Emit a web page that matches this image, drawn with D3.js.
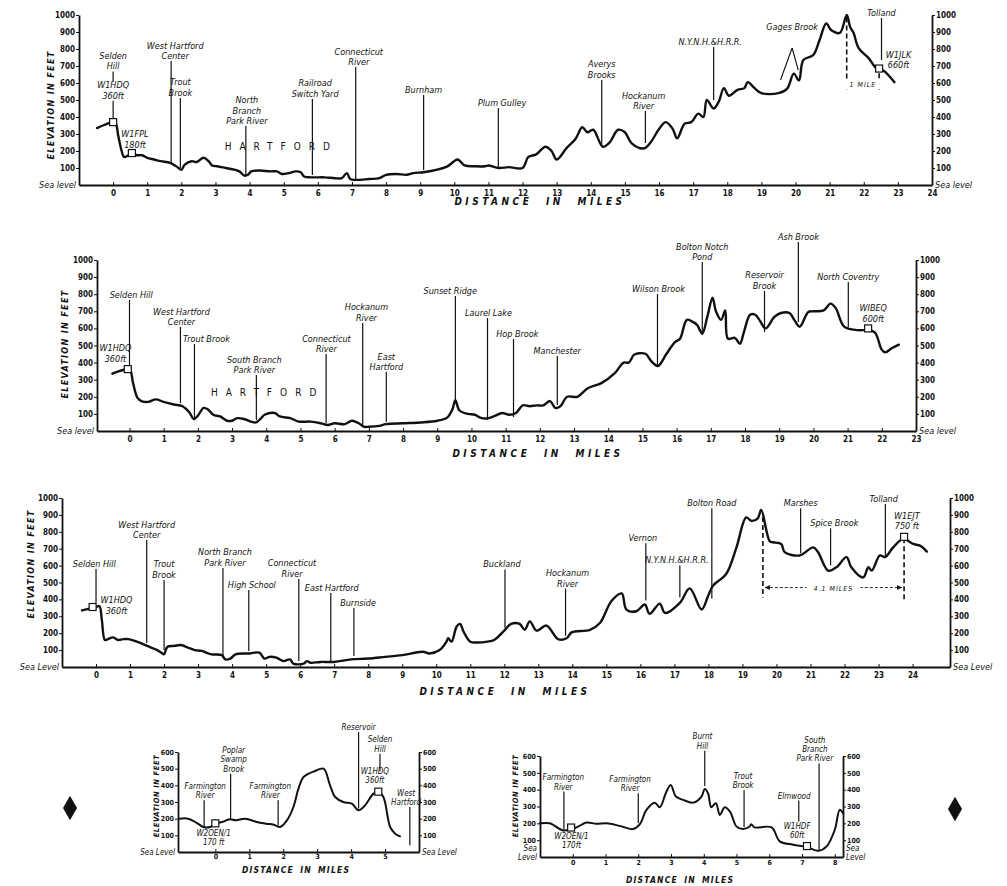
<!DOCTYPE html>
<html>
<head>
<meta charset="utf-8">
<script src="https://cdn.jsdelivr.net/npm/d3@7/dist/d3.min.js"></script>
<style>
  body { margin: 0; background: #fff; }
  svg text { font-family: "DejaVu Sans Condensed", "DejaVu Sans", sans-serif; font-stretch: condensed; font-style: italic; fill: #111; }
  .tick text { font-style: normal; font-weight: bold; }
</style>
</head>
<body>
<svg id="chart" width="1007" height="886"></svg>
<script>
// ---- profile 1 : Selden Hill to Tolland ----
var route1Profile = [[-0.47,335],[-0.3,350],[-0.1,365],[0,370],[0.08,360],[0.15,290],[0.25,200],[0.32,165],[0.45,175],[0.55,185],[0.7,175],[0.85,175],[1.0,160],[1.2,150],[1.4,140],[1.67,130],[1.85,110],[2.0,90],[2.1,120],[2.3,140],[2.45,135],[2.65,160],[2.8,140],[2.9,115],[3.05,110],[3.3,100],[3.55,90],[3.7,80],[3.85,55],[3.95,60],[4.05,80],[4.3,85],[4.6,80],[4.8,80],[4.95,65],[5.15,70],[5.35,80],[5.5,75],[5.6,50],[5.8,45],[6.2,45],[6.5,40],[6.7,40],[6.85,70],[6.95,35],[7.1,30],[7.5,35],[7.8,40],[8.0,60],[8.3,65],[8.6,60],[8.8,70],[9.1,75],[9.5,90],[9.8,110],[10.1,150],[10.3,115],[10.6,110],[10.9,110],[11.0,115],[11.3,100],[11.6,105],[12.0,100],[12.17,165],[12.4,180],[12.67,225],[12.85,200],[13.0,150],[13.3,220],[13.55,270],[13.75,340],[13.9,310],[14.07,325],[14.35,225],[14.55,250],[14.8,325],[15.0,310],[15.2,245],[15.55,215],[15.75,250],[16.0,330],[16.2,370],[16.4,330],[16.53,275],[16.75,360],[16.95,370],[17.15,420],[17.3,400],[17.4,500],[17.6,450],[17.75,490],[17.9,570],[18.05,525],[18.3,560],[18.5,570],[18.6,605],[18.8,570],[19.0,540],[19.5,540],[19.75,565],[19.95,655],[20.1,615],[20.23,735],[20.52,765],[20.7,850],[20.9,950],[21.05,910],[21.3,895],[21.5,1000],[21.6,930],[21.7,895],[21.85,805],[22.15,745],[22.35,690],[22.45,685],[22.6,670],[22.75,640],[22.9,605]];
var route1Labels = [
  {m:0, top:668, bot:606, text:["Selden","Hill"]},
  {m:0, top:495, bot:394, text:["W1HDQ","360ft"]},
  {m:0.64, top:206, bot:206, text:["W1FPL","180ft"]},
  {m:1.7, tx:1.82, top:729, bot:129, text:["West Hartford","Center"]},
  {m:1.97, top:512, bot:100, text:["Trout","Brook"]},
  {m:3.89, tx:3.92, top:347, bot:53, text:["North","Branch","Park River"]},
  {m:5.84, tx:5.92, top:506, bot:59, text:["Railroad","Switch Yard"]},
  {m:7.11, tx:7.2, top:694, bot:29, text:["Connecticut","River"]},
  {m:9.1, top:529, bot:88, text:["Burnham"]},
  {m:11.29, tx:11.4, top:453, bot:106, text:["Plum Gulley"]},
  {m:14.32, top:618, bot:235, text:["Averys","Brooks"]},
  {m:15.6, tx:15.55, top:435, bot:247, text:["Hockanum","River"]},
  {m:17.6, tx:17.5, top:812, bot:500, text:["N.Y.N.H.&H.R.R."]},
  {m:19.9, top:900, bot:900, text:["Gages Brook"], legs:[[19.9,806],[19.56,618],[20.08,676]]},
  {m:22.52, top:982, bot:735, text:["Tolland"]},
  {m:23.02, top:676, bot:676, text:["W1JLK","660ft"]}
];
var route1Boxes = [[0,370],[0.55,188],[22.45,685]];
var route1Dashes = [[21.5,985,560],[22.45,705,560]];
var route1Span = [21.5,22.45,594,"1 MILE"];
var route1Miles = d3.range(0, 25);

// ---- profile 2 : Selden Hill to North Coventry ----
var route2Profile = [[-0.5,335],[-0.3,350],[-0.1,360],[0.02,355],[0.1,285],[0.23,195],[0.35,175],[0.55,170],[0.77,185],[1.0,170],[1.3,155],[1.55,145],[1.75,110],[1.88,70],[2.0,90],[2.17,135],[2.3,125],[2.45,95],[2.65,85],[2.85,60],[3.0,60],[3.15,75],[3.35,70],[3.55,55],[3.7,50],[3.85,75],[3.95,95],[4.25,105],[4.4,85],[4.7,75],[4.95,55],[5.3,55],[5.6,45],[5.8,35],[6.0,45],[6.3,40],[6.5,60],[6.65,50],[6.75,40],[6.85,25],[7.0,25],[7.3,30],[7.5,40],[8.0,45],[8.5,50],[9.0,60],[9.3,80],[9.45,130],[9.53,180],[9.65,120],[9.9,100],[10.1,95],[10.3,75],[10.5,75],[10.7,90],[10.9,105],[11.1,95],[11.3,105],[11.5,150],[11.7,145],[11.9,150],[12.1,150],[12.3,175],[12.45,135],[12.6,145],[12.8,200],[13.1,200],[13.4,250],[13.8,280],[14.2,340],[14.45,400],[14.6,400],[14.75,445],[14.9,455],[15.1,450],[15.25,410],[15.45,380],[15.7,450],[15.95,520],[16.1,540],[16.3,650],[16.5,635],[16.6,620],[16.75,570],[16.9,670],[17.05,780],[17.15,700],[17.3,650],[17.42,705],[17.5,540],[17.7,545],[17.85,510],[17.97,580],[18.15,680],[18.3,680],[18.45,640],[18.6,600],[18.86,667],[19.05,690],[19.3,690],[19.44,650],[19.6,610],[19.85,696],[20.0,700],[20.3,705],[20.5,745],[20.65,720],[20.9,610],[21.3,590],[21.6,590],[21.8,575],[22.0,475],[22.1,460],[22.3,485],[22.5,505]];
var route2Labels = [
  {m:0, tx:0.05, top:766, bot:386, text:["Selden Hill"]},
  {m:-0.41, top:392, bot:392, text:["W1HDQ","360ft"]},
  {m:1.49, tx:1.52, top:608, bot:164, text:["West Hartford","Center"]},
  {m:1.9, tx:2.25, top:509, bot:70, text:["Trout Brook"]},
  {m:3.71, tx:3.65, top:327, bot:64, text:["South Branch","Park River"]},
  {m:5.75, tx:5.76, top:450, bot:47, text:["Connecticut","River"]},
  {m:6.82, tx:6.93, top:632, bot:23, text:["Hockanum","River"]},
  {m:7.51, top:345, bot:53, text:["East","Hartford"]},
  {m:9.53, tx:9.38, top:789, bot:181, text:["Sunset Ridge"]},
  {m:10.47, tx:10.5, top:661, bot:64, text:["Laurel Lake"]},
  {m:11.23, tx:11.34, top:538, bot:82, text:["Hop Brook"]},
  {m:12.51, top:439, bot:152, text:["Manchester"]},
  {m:15.44, tx:15.47, top:801, bot:374, text:["Wilson Brook"]},
  {m:16.75, top:988, bot:561, text:["Bolton Notch","Pond"]},
  {m:18.57, top:819, bot:579, text:["Reservoir","Brook"]},
  {m:19.56, top:1105, bot:637, text:["Ash Brook"]},
  {m:21.02, top:871, bot:608, text:["North Coventry"]},
  {m:21.75, top:626, bot:626, text:["WIBEQ","600ft"]}
];
var route2Boxes = [[-0.05,362],[21.6,600]];
var route2Miles = d3.range(0, 24);

// ---- profile 3 : Selden Hill to Tolland via Bolton Road ----
var route3Profile = [[-0.41,335],[-0.2,345],[0,355],[0.1,360],[0.17,280],[0.26,160],[0.35,165],[0.5,175],[0.65,160],[0.8,165],[0.95,165],[1.2,150],[1.5,125],[1.8,100],[1.95,80],[2.0,75],[2.1,120],[2.3,125],[2.5,130],[2.7,115],[2.9,100],[3.1,95],[3.4,75],[3.7,70],[3.8,45],[3.95,50],[4.1,75],[4.5,80],[4.8,85],[4.95,50],[5.1,60],[5.3,55],[5.5,35],[5.7,45],[5.8,20],[6.1,20],[6.2,35],[6.3,25],[6.6,30],[7.0,30],[7.5,45],[8.0,50],[8.5,60],[9.0,70],[9.6,90],[9.8,80],[10.1,100],[10.3,150],[10.35,170],[10.45,150],[10.6,240],[10.7,255],[10.8,210],[11.0,150],[11.2,145],[11.5,150],[11.7,160],[12.0,215],[12.2,255],[12.45,255],[12.6,220],[12.75,270],[12.95,215],[13.24,245],[13.58,165],[13.83,170],[13.98,205],[14.52,220],[14.81,260],[15.15,390],[15.45,435],[15.59,340],[15.88,330],[16.13,370],[16.27,315],[16.57,375],[16.72,320],[17.16,380],[17.45,465],[17.8,340],[17.99,420],[18.13,480],[18.52,550],[18.82,705],[19.11,885],[19.26,865],[19.45,880],[19.55,930],[19.8,745],[19.9,738],[20.14,728],[20.24,680],[20.68,660],[21.08,708],[21.22,680],[21.52,570],[21.76,590],[22.06,650],[22.2,590],[22.55,530],[22.7,590],[22.8,570],[23.04,660],[23.19,650],[23.43,708],[23.73,758],[24.02,728],[24.22,718],[24.42,683]];
var route3Labels = [
  {m:0, tx:-0.05, top:580, bot:379, text:["Selden Hill"]},
  {m:0.6, top:302, bot:302, text:["W1HDQ","360ft"]},
  {m:1.49, top:751, bot:142, text:["West Hartford","Center"]},
  {m:2.0, top:515, bot:100, text:["Trout","Brook"]},
  {m:3.73, tx:3.79, top:586, bot:53, text:["North Branch","Park River"]},
  {m:4.49, tx:4.58, top:456, bot:95, text:["High School"]},
  {m:5.96, tx:5.76, top:521, bot:36, text:["Connecticut","River"]},
  {m:6.9, tx:6.93, top:438, bot:36, text:["East Hartford"]},
  {m:7.58, tx:7.7, top:349, bot:65, text:["Burnside"]},
  {m:12.02, tx:11.93, top:577, bot:232, text:["Buckland"]},
  {m:13.8, tx:13.86, top:464, bot:185, text:["Hockanum","River"]},
  {m:16.16, tx:16.07, top:732, bot:393, text:["Vernon"]},
  {m:17.16, tx:17.07, top:601, bot:411, text:["N.Y.N.H.&H.R.R."]},
  {m:18.1, top:940, bot:405, text:["Bolton Road"]},
  {m:20.71, top:940, bot:673, text:["Marshes"]},
  {m:21.59, tx:21.7, top:821, bot:601, text:["Spice Brook"]},
  {m:23.2, tx:23.15, top:964, bot:649, text:["Tolland"]},
  {m:23.83, top:804, bot:804, text:["W1EJT","750 ft"]}
];
var route3Boxes = [[-0.1,355],[23.75,770]];
var route3Dashes = [[19.6,887,411],[23.75,762,387]];
var route3Span = [19.6,23.75,470,"4.1 MILES"];
var route3Miles = d3.range(0, 25);

// ---- profile 4 : Farmington River to West Hartford ----
var route4Profile = [[-1.05,200],[-0.8,200],[-0.55,175],[-0.35,150],[-0.15,150],[0,170],[0.2,180],[0.42,196],[0.61,190],[0.88,200],[1.22,180],[1.5,170],[1.72,164],[1.91,150],[2.11,190],[2.3,270],[2.45,380],[2.6,450],[2.94,486],[3.19,500],[3.38,400],[3.53,330],[3.77,300],[4.02,290],[4.22,250],[4.41,280],[4.66,350],[4.8,360],[4.95,330],[5.15,150],[5.3,110],[5.44,94]];
var route4Labels = [
  {m:-0.33, tx:-0.3, top:310, bot:150, text:["Farmington","River"]},
  {m:0.45, tx:0.54, top:470, bot:200, text:["Poplar","Swamp","Brook"]},
  {m:1.85, tx:1.62, top:310, bot:160, text:["Farmington","River"]},
  {m:-0.05, top:30, bot:30, text:["W2OEN/1","170 ft"]},
  {m:4.22, top:720, bot:260, text:["Reservoir"]},
  {m:4.85, top:590, bot:484, text:["Selden","Hill"]},
  {m:4.7, top:400, bot:400, text:["W1HDQ","360ft"]},
  {m:5.73, tx:5.62, top:270, bot:40, text:["West","Hartford"]}
];
var route4Boxes = [[0,172],[4.8,362]];
var route4Miles = d3.range(0, 6);

// ---- profile 5 : Farmington River to South Branch Park River ----
var route5Profile = [[-1.0,200],[-0.7,200],[-0.3,158],[-0.04,165],[0.16,180],[0.42,205],[0.72,197],[1.03,200],[1.43,185],[1.84,166],[2.05,195],[2.25,280],[2.5,323],[2.66,296],[2.84,379],[2.99,428],[3.15,359],[3.37,339],[3.68,323],[3.93,359],[4.03,404],[4.13,379],[4.23,296],[4.37,320],[4.49,250],[4.64,296],[4.8,270],[5.0,181],[5.2,166],[5.4,181],[5.45,195],[5.55,176],[6.07,176],[6.32,93],[6.73,73],[7.14,60],[7.5,37],[7.75,63],[8.0,162],[8.15,280],[8.25,260]];
var route5Labels = [
  {m:-0.27, tx:-0.29, top:389, bot:162, text:["Farmington","River"]},
  {m:2.0, tx:1.75, top:379, bot:201, text:["Farmington","River"]},
  {m:4.03, tx:3.96, top:631, bot:422, text:["Burnt","Hill"]},
  {m:5.23, tx:5.2, top:398, bot:178, text:["Trout","Brook"]},
  {m:7.52, tx:7.39, top:556, bot:43, text:["South","Branch","Park River"]},
  {m:6.9, tx:6.76, top:335, bot:211, text:["Elmwood"]},
  {m:6.85, top:99, bot:99, text:["W1HDF","60ft"]},
  {m:-0.04, top:39, bot:39, text:["W2OEN/1","170ft"]}
];
var route5Boxes = [[-0.05,175],[7.15,65]];
var route5Miles = d3.range(0, 9);

var feet1000 = d3.range(100, 1001, 100);
var feet600 = d3.range(100, 601, 100);

var svg = d3.select("#chart");

// multi-line text, last line sitting on baseline y
function stacked(g, x, y, lines, size, gap, anchor) {
  var t = g.append("text").attr("text-anchor", anchor || "middle").attr("font-size", size);
  lines.forEach(function(s, i) {
    t.append("tspan").attr("x", x).attr("y", y - (lines.length - 1 - i) * gap).text(s);
  });
  return t;
}

function drawRoute(o) {
  var x = d3.scaleLinear().domain(o.xDomain).range(o.xRange);
  var y = d3.scaleLinear().domain([0, o.yMax]).range(o.yRange);
  var base = o.yRange[0];
  var g = svg.append("g");

  g.append("g")
      .attr("transform", "translate(0," + base + ")")
      .call(d3.axisBottom(x).tickValues(o.miles).tickSize(-3).tickSizeOuter(0).tickPadding(o.tickPad).tickFormat(d3.format("d")));
  g.append("g")
      .attr("transform", "translate(" + o.xRange[0] + ",0)")
      .call(d3.axisLeft(y).tickValues(o.feet).tickSize(3).tickSizeOuter(0).tickPadding(1).tickFormat(d3.format("d")));
  g.append("g")
      .attr("transform", "translate(" + o.xRange[1] + ",0)")
      .call(d3.axisRight(y).tickValues(o.feet).tickSize(3).tickSizeOuter(0).tickPadding(1).tickFormat(d3.format("d")));
  g.selectAll(".domain").attr("stroke", "#111").attr("stroke-width", 1.8);
  g.selectAll(".tick line").attr("stroke", "#111");
  g.selectAll(".tick text").attr("font-size", o.tickFont).attr("fill", "#111");

  // sea level captions
  stacked(g, o.xRange[0] - 3, base + 3, o.seaText, o.labelFont, o.lineGap, "end");
  stacked(g, o.xRange[1] + 3, base + 3, o.seaText, o.labelFont, o.lineGap, "start");

  g.append("text")
      .attr("transform", "translate(" + o.elev[0] + "," + o.elev[1] + ") rotate(-90)")
      .attr("text-anchor", "middle").attr("font-size", o.axisFont).attr("font-weight", "bold")
      .attr("letter-spacing", o.elevSpacing).text("ELEVATION IN FEET");

  g.append("text")
      .attr("x", o.dist[0]).attr("y", o.dist[1])
      .attr("text-anchor", "middle").attr("font-size", o.axisFont + 1).attr("font-weight", "bold")
      .attr("letter-spacing", o.distSpacing).attr("word-spacing", o.distSpacing * 2)
      .text("DISTANCE IN MILES");

  if (o.city) {
    g.append("text").attr("x", x(o.city[0])).attr("y", y(o.city[1]))
      .attr("text-anchor", "middle").attr("font-size", 10).style("font-style", "normal")
      .attr("letter-spacing", 8).text("HARTFORD");
  }

  // station labels with leader lines
  o.labels.forEach(function(l) {
    var lx = x(l.m), tx = x(l.tx != null ? l.tx : l.m), ty = y(l.top);
    if (l.legs) {
      var apex = l.legs[0];
      l.legs.slice(1).forEach(function(p) {
        g.append("line").attr("x1", x(apex[0])).attr("y1", y(apex[1]))
          .attr("x2", x(p[0])).attr("y2", y(p[1])).attr("stroke", "#111").attr("stroke-width", 1.1);
      });
    } else if (l.top != l.bot) {
      g.append("line").attr("x1", lx).attr("x2", lx).attr("y1", ty).attr("y2", y(l.bot))
        .attr("stroke", "#111").attr("stroke-width", 1.2);
    }
    stacked(g, tx, ty - 2, l.text, o.labelFont, o.lineGap);
  });

  (o.dashes || []).forEach(function(d) {
    g.append("line").attr("x1", x(d[0])).attr("x2", x(d[0])).attr("y1", y(d[1])).attr("y2", y(d[2]))
      .attr("stroke", "#111").attr("stroke-width", 1.6).attr("stroke-dasharray", "5,3");
  });
  if (o.span) {
    var s = o.span, sy = y(s[2]);
    g.append("line").attr("x1", x(s[0]) + 2).attr("x2", x(s[1]) - 2).attr("y1", sy).attr("y2", sy)
      .attr("stroke", "#111").attr("stroke-width", 0.9).attr("stroke-dasharray", "3,2");
    [[x(s[0]) + 2, 1], [x(s[1]) - 2, -1]].forEach(function(a) {
      g.append("path").attr("d", "M" + a[0] + "," + sy + "l" + (5 * a[1]) + ",-2.5l0,5z").attr("fill", "#111");
    });
    var mid = (x(s[0]) + x(s[1])) / 2;
    g.append("rect").attr("x", mid - s[3].length * 3).attr("y", sy - 5).attr("width", s[3].length * 6).attr("height", 9).attr("fill", "#fff");
    g.append("text").attr("x", mid).attr("y", sy + 3).attr("text-anchor", "middle")
      .attr("font-size", 7).attr("letter-spacing", 1).text(s[3]);
  }

  var line = d3.line()
      .x(function(d) { return x(d[0]); })
      .y(function(d) { return y(d[1]); })
      .curve(d3.curveCatmullRom.alpha(0.5));
  g.append("path").datum(o.profile).attr("d", line)
      .attr("fill", "none").attr("stroke", "#111").attr("stroke-width", o.profileWidth)
      .attr("stroke-linejoin", "round").attr("stroke-linecap", "round");

  g.selectAll(".box").data(o.boxes).enter().append("rect")
      .attr("x", function(d) { return x(d[0]) - 3.5; })
      .attr("y", function(d) { return y(d[1]) - 3.5; })
      .attr("width", 7).attr("height", 7)
      .attr("fill", "#fff").attr("stroke", "#111").attr("stroke-width", 1.2);
}

drawRoute({xDomain: [-1, 24], xRange: [79, 932], yMax: 1000, yRange: [185, 15],
  miles: route1Miles, feet: feet1000, profile: route1Profile, labels: route1Labels, boxes: route1Boxes,
  dashes: route1Dashes, span: route1Span, city: [4.93, 206],
  seaText: ["Sea level"], elev: [54, 105], dist: [540, 205],
  tickFont: 8, tickPad: 5, labelFont: 9, axisFont: 9, lineGap: 10.5, elevSpacing: 1.3, distSpacing: 3.5, profileWidth: 2.4});

drawRoute({xDomain: [-0.95, 23], xRange: [97, 916], yMax: 1000, yRange: [431, 260],
  miles: route2Miles, feet: feet1000, profile: route2Profile, labels: route2Labels, boxes: route2Boxes,
  city: [4.04, 205],
  seaText: ["Sea level"], elev: [68, 344], dist: [538, 457],
  tickFont: 8, tickPad: 5, labelFont: 9, axisFont: 9, lineGap: 10.5, elevSpacing: 1.3, distSpacing: 3.5, profileWidth: 2.4});

drawRoute({xDomain: [-1, 25.1], xRange: [62, 950], yMax: 1000, yRange: [667, 498],
  miles: route3Miles, feet: feet1000, profile: route3Profile, labels: route3Labels, boxes: route3Boxes,
  dashes: route3Dashes, span: route3Span,
  seaText: ["Sea Level"], elev: [34, 564], dist: [505, 695],
  tickFont: 8, tickPad: 5, labelFont: 9, axisFont: 9, lineGap: 10.5, elevSpacing: 1.3, distSpacing: 3.5, profileWidth: 2.4});

drawRoute({xDomain: [-1.1, 6], xRange: [178, 419], yMax: 600, yRange: [852, 752],
  miles: route4Miles, feet: feet600, profile: route4Profile, labels: route4Labels, boxes: route4Boxes,
  seaText: ["Sea Level"], elev: [159, 796], dist: [296, 873],
  tickFont: 7, tickPad: 2, labelFont: 8, axisFont: 7.5, lineGap: 9.4, elevSpacing: 0.6, distSpacing: 1.2, profileWidth: 2});

drawRoute({xDomain: [-1, 8.25], xRange: [540, 843], yMax: 600, yRange: [857, 756],
  miles: route5Miles, feet: feet600, profile: route5Profile, labels: route5Labels, boxes: route5Boxes,
  seaText: ["Sea", "Level"], elev: [518, 796], dist: [680, 883],
  tickFont: 7, tickPad: 3, labelFont: 8, axisFont: 7.5, lineGap: 9.4, elevSpacing: 0.6, distSpacing: 1.2, profileWidth: 2});

// page markers
svg.selectAll(".mark").data([[70, 808], [955, 809]]).enter().append("path")
    .attr("transform", function(d) { return "translate(" + d[0] + "," + d[1] + ")"; })
    .attr("d", d3.symbol().type(d3.symbolDiamond).size(170))
    .attr("fill", "#111");
</script>
</body>
</html>
